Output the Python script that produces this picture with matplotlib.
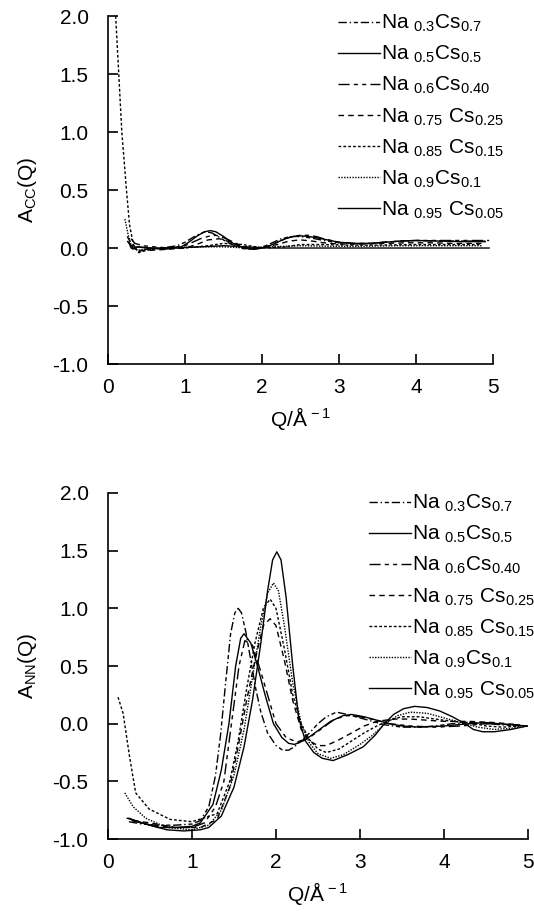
import matplotlib
matplotlib.use('Agg')
import matplotlib.pyplot as plt

plt.rcParams['font.family'] = ['Liberation Sans', 'DejaVu Sans']
plt.rcParams['mathtext.fontset'] = 'custom'
plt.rcParams['mathtext.rm'] = 'Liberation Sans'
plt.rcParams['mathtext.it'] = 'Liberation Sans:italic'

labels = [r'Na $_{0.3}$Cs$_{0.7}$', r'Na $_{0.5}$Cs$_{0.5}$', r'Na $_{0.6}$Cs$_{0.40}$',
          r'Na $_{0.75}$ Cs$_{0.25}$', r'Na $_{0.85}$ Cs$_{0.15}$', r'Na $_{0.9}$Cs$_{0.1}$',
          r'Na $_{0.95}$ Cs$_{0.05}$']

# A_CC(Q)
q_cc = [
    [0.25, 0.3, 0.4, 0.5, 0.7, 0.9, 1.0, 1.1, 1.2, 1.27, 1.35, 1.45, 1.55, 1.65, 1.75, 1.85, 1.95, 2.05, 2.15, 2.25, 2.35, 2.45, 2.55, 2.65, 2.8, 3.0, 3.2, 3.4, 3.6, 3.8, 4.0, 4.3, 4.6, 4.9],
    [0.27, 0.32, 0.4, 0.55, 0.75, 0.95, 1.05, 1.15, 1.25, 1.33, 1.4, 1.5, 1.6, 1.7, 1.8, 1.9, 2.0, 2.1, 2.2, 2.3, 2.4, 2.5, 2.6, 2.7, 2.85, 3.0, 3.2, 3.4, 3.6, 3.8, 4.0, 4.3, 4.6, 4.9],
    [0.3, 0.35, 0.45, 0.6, 0.8, 1.0, 1.1, 1.2, 1.3, 1.4, 1.5, 1.6, 1.7, 1.8, 1.9, 2.0, 2.1, 2.2, 2.3, 2.4, 2.5, 2.6, 2.7, 2.8, 3.0, 3.2, 3.4, 3.6, 3.8, 4.0, 4.3, 4.6, 4.95],
    [0.25, 0.3, 0.4, 0.55, 0.8, 1.0, 1.15, 1.3, 1.45, 1.6, 1.75, 1.9, 2.05, 2.2, 2.35, 2.5, 2.65, 2.8, 3.0, 3.3, 3.6, 3.9, 4.2, 4.5, 4.85],
    [0.1, 0.14, 0.18, 0.24, 0.28, 0.33, 0.4, 0.5, 0.7, 1.0, 1.3, 1.5, 1.75, 2.0, 2.3, 2.5, 2.8, 3.1, 3.5, 4.0, 4.5, 4.85],
    [0.22, 0.26, 0.3, 0.38, 0.5, 0.8, 1.2, 1.5, 1.8, 2.1, 2.5, 2.9, 3.3, 3.8, 4.3, 4.85],
    [0.27, 0.3, 0.33, 0.38, 0.5, 0.8, 1.2, 1.5, 1.8, 2.1, 2.5, 3.0, 3.5, 4.0, 4.5, 4.95],
]
a_cc = [
    [0.06, 0.02, -0.03, -0.01, 0.0, 0.02, 0.05, 0.09, 0.125, 0.14, 0.13, 0.09, 0.05, 0.02, -0.005, -0.01, 0.0, 0.02, 0.05, 0.08, 0.095, 0.1, 0.095, 0.085, 0.065, 0.045, 0.035, 0.04, 0.05, 0.06, 0.065, 0.06, 0.06, 0.06],
    [0.05, 0.0, 0.01, 0.0, -0.01, 0.01, 0.05, 0.1, 0.14, 0.15, 0.14, 0.1, 0.05, 0.015, -0.005, -0.01, 0.0, 0.02, 0.05, 0.08, 0.1, 0.105, 0.1, 0.09, 0.07, 0.05, 0.04, 0.04, 0.05, 0.06, 0.065, 0.06, 0.055, 0.055],
    [0.08, 0.04, 0.02, 0.01, 0.0, 0.02, 0.05, 0.08, 0.1, 0.11, 0.09, 0.06, 0.03, 0.005, -0.01, 0.0, 0.02, 0.05, 0.08, 0.1, 0.11, 0.11, 0.1, 0.08, 0.05, 0.04, 0.04, 0.05, 0.06, 0.065, 0.065, 0.065, 0.065],
    [0.1, 0.04, -0.02, -0.02, -0.01, 0.0, 0.03, 0.07, 0.08, 0.05, 0.01, 0.0, 0.01, 0.03, 0.06, 0.07, 0.06, 0.045, 0.035, 0.035, 0.04, 0.045, 0.045, 0.04, 0.04],
    [2.0, 1.5, 1.0, 0.5, 0.2, 0.03, -0.04, -0.02, 0.0, 0.0, 0.02, 0.04, 0.03, 0.0, 0.01, 0.03, 0.03, 0.025, 0.025, 0.03, 0.03, 0.03],
    [0.25, 0.12, 0.03, -0.02, -0.01, 0.0, 0.01, 0.01, 0.0, 0.01, 0.02, 0.015, 0.015, 0.02, 0.02, 0.02],
    [0.05, 0.0, -0.01, 0.01, 0.0, 0.0, 0.01, 0.02, 0.01, 0.0, 0.0, 0.0, 0.0, 0.0, 0.0, 0.0],
]

# A_NN(Q)
q_nn = [
    [0.25, 0.4, 0.6, 0.8, 1.0, 1.1, 1.2, 1.28, 1.34, 1.4, 1.46, 1.51, 1.55, 1.59, 1.64, 1.7, 1.76, 1.82, 1.9, 2.0, 2.08, 2.15, 2.22, 2.3, 2.4, 2.5, 2.6, 2.72, 2.85, 3.0, 3.15, 3.3, 3.5, 3.7, 3.9, 4.1, 4.3, 4.5, 4.7, 4.9],
    [0.25, 0.4, 0.6, 0.8, 1.0, 1.1, 1.25, 1.35, 1.44, 1.52, 1.58, 1.62, 1.7, 1.78, 1.87, 1.97, 2.07, 2.15, 2.22, 2.35, 2.5, 2.65, 2.8, 2.9, 3.05, 3.2, 3.35, 3.5, 3.7, 4.0, 4.3, 4.5, 4.8, 5.0],
    [0.28, 0.45, 0.6, 0.8, 1.0, 1.15, 1.28, 1.38, 1.47, 1.56, 1.63, 1.72, 1.82, 1.92, 2.0, 2.12, 2.25, 2.4, 2.55, 2.7, 2.85, 3.0, 3.2, 3.35, 3.6, 3.9, 4.2, 4.5, 4.9],
    [0.3, 0.5, 0.8, 1.1, 1.3, 1.45, 1.55, 1.65, 1.75, 1.85, 1.93, 2.0, 2.1, 2.2, 2.3, 2.4, 2.5, 2.6, 2.75, 2.9, 3.05, 3.2, 3.4, 3.6, 3.8, 4.0, 4.3, 4.6, 4.9],
    [0.12, 0.18, 0.26, 0.33, 0.49, 0.74, 1.0, 1.3, 1.45, 1.55, 1.65, 1.75, 1.85, 1.93, 2.0, 2.1, 2.2, 2.3, 2.4, 2.5, 2.6, 2.75, 2.9, 3.05, 3.2, 3.35, 3.5, 3.7, 3.9, 4.1, 4.3, 4.5, 4.7, 4.9],
    [0.2, 0.3, 0.45, 0.7, 1.0, 1.2, 1.35, 1.5, 1.62, 1.72, 1.82, 1.9, 1.97, 2.03, 2.1, 2.2, 2.3, 2.4, 2.5, 2.65, 2.8, 3.0, 3.15, 3.3, 3.45, 3.6, 3.8, 4.0, 4.2, 4.4, 4.6, 4.8, 5.0],
    [0.23, 0.5, 0.7, 0.9, 1.1, 1.2, 1.35, 1.5, 1.62, 1.72, 1.82, 1.9, 1.96, 2.01, 2.06, 2.12, 2.2, 2.27, 2.35, 2.45, 2.55, 2.68, 2.85, 3.04, 3.18, 3.29, 3.4, 3.52, 3.65, 3.8, 3.95, 4.1, 4.25, 4.35, 4.46, 4.6, 4.8, 4.99],
]
a_nn = [
    [-0.85, -0.87, -0.88, -0.88, -0.87, -0.84, -0.72, -0.45, -0.1, 0.35, 0.78, 0.96, 1.0, 0.96, 0.8, 0.55, 0.3, 0.1, -0.08, -0.19, -0.23, -0.23, -0.2, -0.15, -0.08, 0.0, 0.06, 0.1, 0.08, 0.05, 0.02, -0.01, -0.03, -0.03, -0.02, 0.0, 0.01, 0.0, -0.01, -0.02],
    [-0.82, -0.86, -0.9, -0.9, -0.89, -0.86, -0.7, -0.4, 0.0, 0.5, 0.74, 0.78, 0.7, 0.5, 0.25, 0.0, -0.12, -0.17, -0.18, -0.14, -0.06, 0.02, 0.07, 0.08, 0.06, 0.03, 0.0, -0.02, -0.03, -0.02, 0.0, 0.01, -0.01, -0.02],
    [-0.84, -0.87, -0.89, -0.9, -0.9, -0.86, -0.72, -0.5, 0.0, 0.5, 0.72, 0.68, 0.45, 0.2, 0.0, -0.12, -0.16, -0.12, -0.04, 0.04, 0.07, 0.06, 0.03, 0.0, -0.02, -0.03, -0.02, 0.0, -0.01],
    [-0.84, -0.86, -0.9, -0.9, -0.83, -0.55, -0.2, 0.2, 0.55, 0.85, 0.91, 0.85, 0.55, 0.2, -0.05, -0.15, -0.19, -0.19, -0.14, -0.08, -0.02, 0.02, 0.04, 0.04, 0.03, 0.02, 0.02, 0.01, -0.01],
    [0.23, 0.09, -0.3, -0.6, -0.74, -0.83, -0.85, -0.78, -0.5, -0.15, 0.3, 0.7, 1.0, 1.08, 1.0, 0.65, 0.25, 0.0, -0.14, -0.22, -0.25, -0.22, -0.15, -0.08, -0.02, 0.03, 0.06, 0.06, 0.04, 0.02, 0.01, -0.02, -0.03, -0.02],
    [-0.6, -0.72, -0.82, -0.9, -0.92, -0.88, -0.75, -0.45, -0.05, 0.4, 0.85, 1.13, 1.22, 1.15, 0.85, 0.35, 0.0, -0.17, -0.26, -0.3, -0.27, -0.18, -0.1, 0.0, 0.07, 0.1, 0.09, 0.05, 0.01, -0.03, -0.05, -0.04, -0.02],
    [-0.82, -0.88, -0.92, -0.93, -0.92, -0.9, -0.8, -0.55, -0.2, 0.2, 0.7, 1.15, 1.42, 1.49, 1.42, 1.1, 0.5, 0.05, -0.15, -0.25, -0.3, -0.32, -0.27, -0.2, -0.1, 0.0, 0.08, 0.13, 0.15, 0.14, 0.11, 0.06, 0.0, -0.05, -0.07, -0.07, -0.05, -0.02],
]

styles = [(0, (6, 2, 1, 2, 3, 2)), '-', (0, (8, 3, 3, 3, 3, 3)), (0, (4, 3)),
          (0, (2, 1.5)), (0, (1, 1)), '-']

fig = plt.figure(figsize=(5.34, 9.22), dpi=100)
ax1 = fig.add_axes([0.2022, 0.6052, 0.721, 0.3774])
ax2 = fig.add_axes([0.2022, 0.0900, 0.7865, 0.3753])

for ax, qs, ys, ylab, anchor in [(ax1, q_cc, a_cc, r'A$_{\mathrm{CC}}$(Q)', (338 / 534, 1 - 13 / 922)),
                                 (ax2, q_nn, a_nn, r'A$_{\mathrm{NN}}$(Q)', (369 / 534, 1 - 493 / 922))]:
    for q, a, ls, lab in zip(qs, ys, styles, labels):
        ax.plot(q, a, color='black', linestyle=ls, linewidth=1.0, label=lab)
    ax.set_xlim(0, 5)
    ax.set_ylim(-1, 2)
    ax.set_xticks([0, 1, 2, 3, 4, 5])
    ax.set_yticks([-1.0, -0.5, 0.0, 0.5, 1.0, 1.5, 2.0])
    ax.yaxis.set_major_formatter(matplotlib.ticker.FormatStrFormatter('%.1f'))
    ax.spines['top'].set_visible(False)
    ax.spines['right'].set_visible(False)
    ax.spines['left'].set_linewidth(1.2)
    ax.spines['bottom'].set_linewidth(1.2)
    ax.tick_params(direction='in', length=7, width=1.2, labelsize=15)
    ax.tick_params(axis='y', pad=14)
    ax.tick_params(axis='x', pad=10)
    ax.set_xlabel(r'Q/$\mathrm{\AA}^{\,-1}$', fontsize=15, labelpad=6)
    ax.set_ylabel(ylab, fontsize=15, labelpad=10)
    ax.legend(loc='upper left', bbox_to_anchor=anchor, bbox_transform=fig.transFigure,
              frameon=False, fontsize=15, handlelength=2.0, handletextpad=0.05,
              labelspacing=0.47, borderpad=0, borderaxespad=0)

plt.savefig('out.png', dpi=100)
